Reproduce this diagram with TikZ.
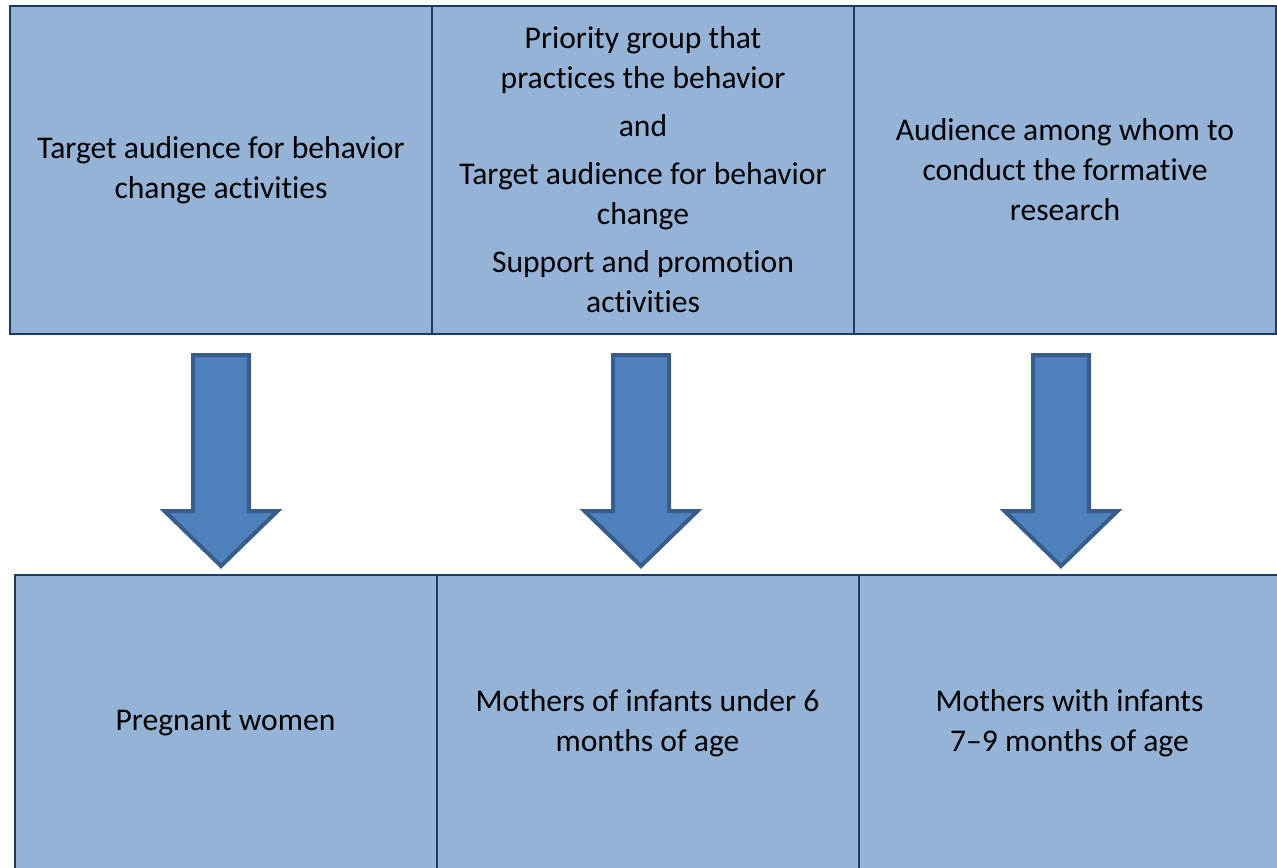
\documentclass[tikz,border=0pt]{standalone}
\usepackage{fontspec}
\setmainfont{Carlito}[Ligatures={NoCommon,NoRare,NoDiscretionary}]
\usepackage{tikz}
\usetikzlibrary{positioning,calc}

\definecolor{boxfill}{HTML}{95B3D7}
\definecolor{boxline}{HTML}{1F3864}
\definecolor{arrowfill}{HTML}{4F81BD}
\definecolor{arrowline}{HTML}{385D8A}

\tikzset{
    cell/.style={draw=boxline, fill=boxfill, line width=1.5pt, outer sep=0pt, inner sep=0pt,
        minimum width=316.5pt, align=center, font=\fontsize{23.7pt}{30pt}\selectfont},
    topcell/.style={cell, minimum height=246pt},
    bottomcell/.style={cell, minimum height=222pt},
    blockarrow/.style={draw=arrowline, fill=arrowfill, line width=3pt, line join=miter}
}

\begin{document}
\begin{tikzpicture}[x=0.75pt, y=-0.75pt]
    \useasboundingbox (0,0) rectangle (1277,867);
    \clip (0,0) rectangle (1277,867);

    % Top row
    \node[topcell] (t1) at (221,170) {Target audience for behavior\\change activities};
    \node[topcell, right=0pt of t1] (t2) {Priority group that\\practices the behavior\\[6pt]and\\[6pt]Target audience for behavior\\change\\[6pt]Support and promotion\\activities};
    \node[topcell, right=0pt of t2] (t3) {Audience among whom to\\conduct the formative\\research};

    % Bottom row
    \node[bottomcell] (b1) at (225.5,723) {Pregnant women};
    \node[bottomcell, right=0pt of b1] (b2) {Mothers of infants under 6\\months of age};
    \node[bottomcell, right=0pt of b2] (b3) {Mothers with infants\\7–9 months of age};

    % Arrows
    \foreach \i/\dx in {1/0,2/-2,3/-4}{
        \coordinate (a\i) at ($(t\i.south)+(\dx,21)$);
        \draw[blockarrow] (a\i) ++(-28,0) -- ++(56,0) -- ++(0,156) -- ++(28.5,0)
            -- ++(-56.5,55) -- ++(-56.5,-55) -- ++(28.5,0) -- cycle;
    }
\end{tikzpicture}
\end{document}
